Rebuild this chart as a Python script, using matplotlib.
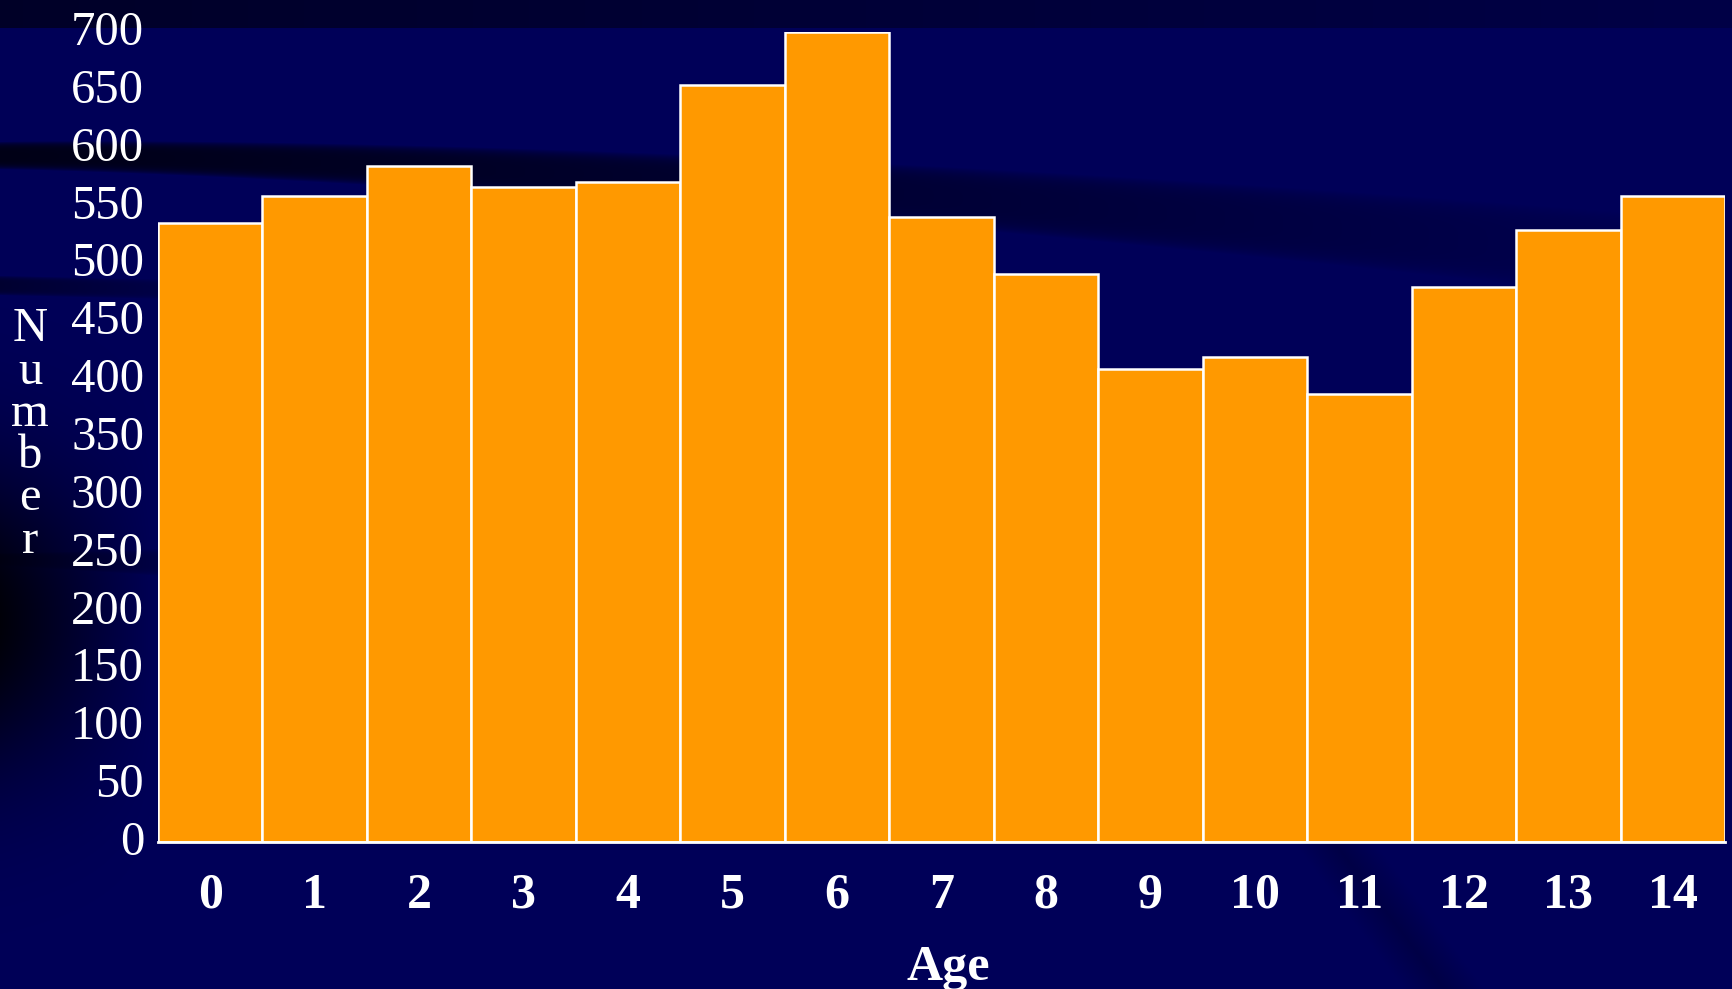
import numpy as np
import matplotlib
matplotlib.use('Agg')
import matplotlib.pyplot as plt
import matplotlib.transforms as mtransforms

ages = [str(a) for a in range(15)]
numbers = [535, 558, 584, 566, 570, 654, 700, 540, 491, 409, 419, 387, 480, 529, 558]
y_ticks = list(range(0, 701, 50))

BAR = '#FF9900'
W, H = 1732, 989

plt.rcParams['font.family'] = ['Liberation Serif', 'DejaVu Serif']

fig = plt.figure(figsize=(W / 100, H / 100), dpi=100)

# background: navy with darker curved bands
yy, xx = np.mgrid[0:H, 0:W].astype(float)
u = xx / W
dark = np.zeros((H, W))
# top strip
dark = np.maximum(dark, np.where(yy < 28, 0.55 - 0.35 * u, 0))
# curved bands sweeping to the right
def band(center, half, strength):
    d = np.abs(yy - center) / half
    return strength * np.clip(1 - d ** 4, 0, 1)
c1 = 155 + 110 * u ** 1.6
dark = np.maximum(dark, band(c1, 14 + 30 * u, 0.75 * np.clip(1 - 0.9 * u, 0, 1)))
c2 = 285 + 40 * u
dark = np.maximum(dark, band(c2, 10, 0.45 * np.clip(1 - u * 6, 0, 1)))
c3 = 560 + 20 * u
dark = np.maximum(dark, band(c3, 14, 0.8 * np.clip(1 - u * 8, 0, 1)))
# left edge shading
left = np.clip(1 - xx / 160, 0, 1) * np.exp(-((yy - 620) / 150) ** 2)
dark = np.maximum(dark, 0.9 * left)
# diagonal streak lower right
diag = np.abs((xx - 1340) - (yy - 850) * 0.75) / 40
dark = np.maximum(dark, 0.2 * np.clip(1 - diag, 0, 1) * (yy > 800))
base = np.array([0, 0, 88]) / 255.0
img = base[None, None, :] * (1 - dark[..., None])
bg = fig.add_axes([0, 0, 1, 1], zorder=0)
bg.imshow(img, aspect='auto', extent=[0, 1, 0, 1])
bg.axis('off')

ax = fig.add_axes([158 / W, 1 - 842 / H, (1725 - 158) / W, (842 - 32) / H], zorder=1)
ax.patch.set_alpha(0)
x = np.arange(len(ages))
ax.bar(x, numbers, width=1.0, color=BAR, edgecolor='white', linewidth=1.8)
ax.set_xlim(-0.5, len(ages) - 0.5)
ax.set_ylim(0, 700)
ax.set_yticks(y_ticks)
ax.set_xticks(x)
ax.set_xticklabels(ages, fontweight='bold')
ax.tick_params(axis='y', length=0, pad=10, labelsize=35, labelcolor='white')
ax.tick_params(axis='x', length=0, pad=22, labelsize=36, labelcolor='white')
# labels in the original sit a touch above their tick
shift = mtransforms.ScaledTranslation(0, 4 / 100, fig.dpi_scale_trans)
for lab in ax.get_yticklabels():
    lab.set_transform(lab.get_transform() + shift)
for s in ['top', 'right', 'left']:
    ax.spines[s].set_visible(False)
ax.spines['bottom'].set_color('white')
ax.spines['bottom'].set_linewidth(2)

fig.text(30 / W, 1 - 435 / H, 'N\nu\nm\nb\ne\nr', color='white', fontsize=35,
         ha='center', va='center', linespacing=0.95)
fig.text(948 / W, 1 - 968 / H, 'Age', color='white', fontsize=36,
         fontweight='bold', ha='center', va='center')

fig.savefig('out.png', dpi=100)
